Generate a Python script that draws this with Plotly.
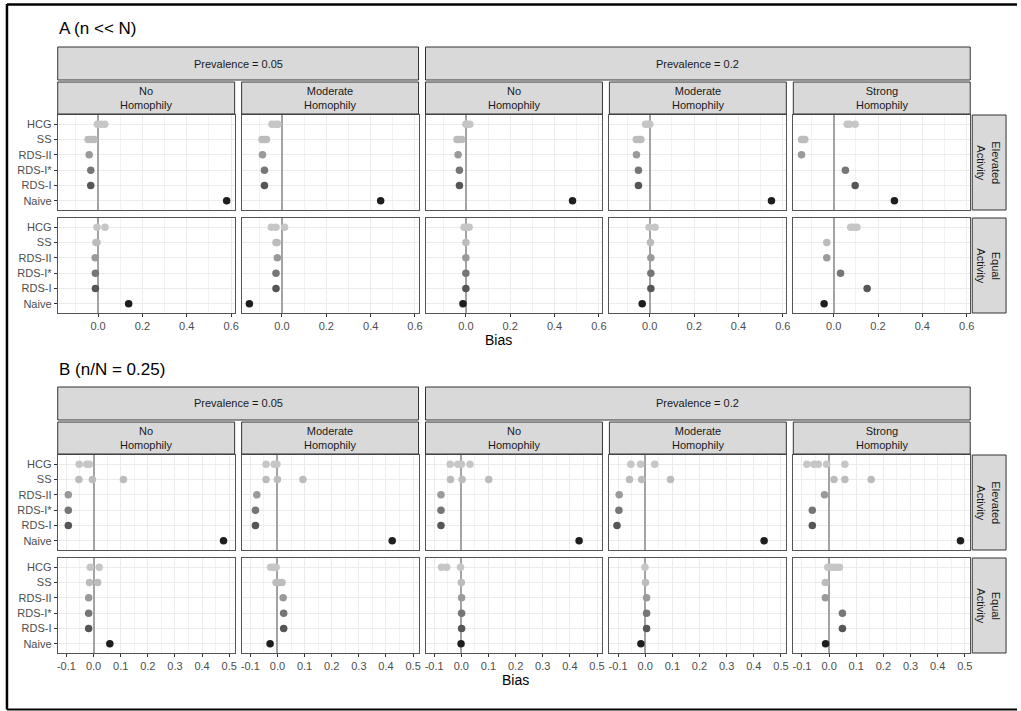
import plotly.graph_objects as go

W, H = 1021, 711

METHODS = ["HCG", "SS", "RDS-II", "RDS-I*", "RDS-I", "Naive"]
CAT_ORDER = ["Naive", "RDS-I", "RDS-I*", "RDS-II", "SS", "HCG"]
COLORS = {"HCG": "#c6c6c6", "SS": "#bcbcbc", "RDS-II": "#9a9a9a",
          "RDS-I*": "#767676", "RDS-I": "#565656", "Naive": "#1e1e1e"}

PREVALENCE = ["Prevalence = 0.05", "Prevalence = 0.2"]
HOMOPHILY = ["No<br>Homophily", "Moderate<br>Homophily", "No<br>Homophily",
             "Moderate<br>Homophily", "Strong<br>Homophily"]
ACTIVITY = ["Elevated<br>Activity", "Equal<br>Activity"]
SECTION_TITLES = ["A (n << N)", "B (n/N = 0.25)"]

# ---- Section A (n << N): values per panel (5 homophily panels) ----
A_ELEVATED = {
    "HCG": [[-0.003, 0.015, 0.03], [-0.045, -0.03, -0.018], [0.0, 0.008, 0.018], [-0.019, -0.008, 0.0], [0.061, 0.072, 0.097]],
    "SS": [[-0.045, -0.03, -0.018], [-0.09, -0.08, -0.07], [-0.04, -0.03, -0.018], [-0.061, -0.05, -0.04], [-0.145, -0.138, -0.13]],
    "RDS-II": [[-0.04], [-0.088], [-0.035], [-0.06], [-0.145]],
    "RDS-I*": [[-0.033], [-0.079], [-0.029], [-0.051], [0.053]],
    "RDS-I": [[-0.033], [-0.079], [-0.029], [-0.051], [0.097]],
    "Naive": [[0.58], [0.445], [0.481], [0.549], [0.274]],
}
A_EQUAL = {
    "HCG": [[-0.005, 0.031], [-0.048, -0.027, 0.012], [-0.008, 0.005, 0.015], [-0.003, 0.024], [0.077, 0.09, 0.105]],
    "SS": [[-0.01, -0.005], [-0.027, -0.022], [0.0], [0.003], [-0.031]],
    "RDS-II": [[-0.013], [-0.021], [0.0], [0.005], [-0.031]],
    "RDS-I*": [[-0.012], [-0.027], [0.0], [0.005], [0.031]],
    "RDS-I": [[-0.012], [-0.027], [0.0], [0.005], [0.151]],
    "Naive": [[0.138], [-0.147], [-0.013], [-0.034], [-0.043]],
}
# ---- Section B (n/N = 0.25) ----
B_ELEVATED = {
    "HCG": [[-0.053, -0.025, -0.015], [-0.042, -0.012, -0.002], [-0.041, -0.013, 0.0, 0.032], [-0.053, -0.017, 0.035], [-0.082, -0.056, -0.04, -0.009, 0.058]],
    "SS": [[-0.054, -0.004, 0.110], [-0.042, 0.0, 0.094], [-0.04, 0.003, 0.101], [-0.058, -0.013, 0.093], [0.018, 0.058, 0.155]],
    "RDS-II": [[-0.093], [-0.076], [-0.075], [-0.096], [-0.017]],
    "RDS-I*": [[-0.093], [-0.081], [-0.075], [-0.097], [-0.062]],
    "RDS-I": [[-0.093], [-0.081], [-0.075], [-0.104], [-0.062]],
    "Naive": [[0.479], [0.423], [0.434], [0.438], [0.484]],
}
B_EQUAL = {
    "HCG": [[-0.012, 0.021], [-0.025, -0.012, -0.005], [-0.073, -0.054, -0.003], [-0.001], [-0.005, 0.01, 0.025, 0.038]],
    "SS": [[-0.015, 0.015], [-0.005, 0.005, 0.017], [0.0], [0.001], [-0.014]],
    "RDS-II": [[-0.018], [0.021], [0.001], [0.005], [-0.014]],
    "RDS-I*": [[-0.018], [0.023], [0.001], [0.005], [0.049]],
    "RDS-I": [[-0.018], [0.023], [0.001], [0.005], [0.049]],
    "Naive": [[0.06], [-0.027], [-0.001], [-0.016], [-0.013]],
}

A_TICKS = [0.0, 0.2, 0.4, 0.6]
B_TICKS = [-0.1, 0.0, 0.1, 0.2, 0.3, 0.4, 0.5]

SECTIONS = [
    dict(data=[A_ELEVATED, A_EQUAL], xr=[-0.182, 0.616], ticks=A_TICKS, minor=0.1, top=115),
    dict(data=[B_ELEVATED, B_EQUAL], xr=[-0.132, 0.52], ticks=B_TICKS, minor=0.05, top=455),
]

# ---- layout geometry (pixels) ----
PX0 = 57.0
PW = 177.8
GAP = 7.0
ROWH = 95.0
ROWGAP = 8.0
FONT = "Liberation Sans, Arial, sans-serif"


def fx(px):
    return px / W


def fy(py):
    return 1 - py / H


fig = go.Figure()
layout = {}
shapes = []
annotations = []

idx = 0
for s, sec in enumerate(SECTIONS):
    top = sec["top"]
    for r in range(2):
        y0 = top + r * (ROWH + ROWGAP)
        y1 = y0 + ROWH
        for c in range(5):
            idx += 1
            x0 = PX0 + c * (PW + GAP)
            x1 = x0 + PW
            xa = "x" if idx == 1 else f"x{idx}"
            ya = "y" if idx == 1 else f"y{idx}"
            xkey = "xaxis" if idx == 1 else f"xaxis{idx}"
            ykey = "yaxis" if idx == 1 else f"yaxis{idx}"
            data = sec["data"][r]
            for m in METHODS:
                vals = data[m][c]
                fig.add_trace(go.Scatter(
                    x=vals, y=[m] * len(vals), mode="markers",
                    marker=dict(size=7.5, color=COLORS[m], line=dict(width=0)),
                    xaxis=xa, yaxis=ya, showlegend=False, hoverinfo="x+y"))
            bottom = (r == 1)
            layout[xkey] = dict(
                domain=[fx(x0), fx(x1)], anchor=ya, range=sec["xr"],
                tickmode="array", tickvals=sec["ticks"],
                ticktext=[("%.1f" % t) for t in sec["ticks"]],
                showticklabels=bottom, ticks="outside" if bottom else "",
                ticklen=3, tickwidth=1, tickcolor="#333333",
                tickfont=dict(size=11, color="#4d4d4d", family=FONT),
                showgrid=True, gridcolor="#ebebeb", gridwidth=1,
                minor=dict(dtick=sec["minor"], tick0=0, showgrid=True,
                           gridcolor="#f2f2f2", gridwidth=0.6, ticks=""),
                zeroline=True, zerolinecolor="#a3a3a3", zerolinewidth=1.5,
                showline=True, mirror=True, linecolor="#555555", linewidth=1,
                fixedrange=True,
            )
            left = (c == 0)
            layout[ykey] = dict(
                domain=[fy(y1), fy(y0)], anchor=xa, type="category",
                categoryorder="array", categoryarray=CAT_ORDER,
                range=[-0.6, 5.6], showticklabels=left,
                ticks="outside" if left else "", ticklen=3, tickwidth=1,
                tickcolor="#333333",
                tickfont=dict(size=11, color="#4d4d4d", family=FONT),
                showgrid=True, gridcolor="#ebebeb", gridwidth=1,
                zeroline=False, showline=True, mirror=True,
                linecolor="#555555", linewidth=1, fixedrange=True,
            )
        # right strip for row
        shapes.append(dict(type="rect", xref="paper", yref="paper",
                           x0=fx(976), x1=fx(1010), y0=fy(y1), y1=fy(y0),
                           fillcolor="#d9d9d9", line=dict(color="#333333", width=1),
                           layer="below"))
        annotations.append(dict(xref="paper", yref="paper", x=fx(993),
                                y=fy((y0 + y1) / 2), text=ACTIVITY[r], textangle=90,
                                showarrow=False, font=dict(size=11, color="#1a1a1a", family=FONT),
                                xanchor="center", yanchor="middle"))

    # top strips
    s1_0, s1_1 = top - 68, top - 35
    s2_0, s2_1 = top - 33, top - 1
    spans = [(PX0, PX0 + 2 * PW + GAP), (PX0 + 2 * (PW + GAP), PX0 + 5 * PW + 4 * GAP)]
    for p, (a, b) in enumerate(spans):
        shapes.append(dict(type="rect", xref="paper", yref="paper",
                           x0=fx(a), x1=fx(b), y0=fy(s1_1), y1=fy(s1_0),
                           fillcolor="#d9d9d9", line=dict(color="#333333", width=1)))
        annotations.append(dict(xref="paper", yref="paper", x=fx((a + b) / 2),
                                y=fy((s1_0 + s1_1) / 2), text=PREVALENCE[p],
                                showarrow=False, font=dict(size=11, color="#1a1a1a", family=FONT),
                                xanchor="center", yanchor="middle"))
    for c in range(5):
        a = PX0 + c * (PW + GAP)
        b = a + PW
        shapes.append(dict(type="rect", xref="paper", yref="paper",
                           x0=fx(a), x1=fx(b), y0=fy(s2_1), y1=fy(s2_0),
                           fillcolor="#d9d9d9", line=dict(color="#333333", width=1)))
        annotations.append(dict(xref="paper", yref="paper", x=fx((a + b) / 2),
                                y=fy((s2_0 + s2_1) / 2), text=HOMOPHILY[c],
                                showarrow=False, font=dict(size=11, color="#1a1a1a", family=FONT),
                                xanchor="center", yanchor="middle"))
    # section title
    annotations.append(dict(xref="paper", yref="paper", x=fx(56), y=fy(top - 86),
                            text=SECTION_TITLES[s], showarrow=False,
                            font=dict(size=17, color="#000000", family=FONT),
                            xanchor="left", yanchor="middle"))
    # axis title
    bias_x = 500 if s == 0 else 517
    annotations.append(dict(xref="paper", yref="paper", x=fx(bias_x),
                            y=fy(top + 2 * ROWH + ROWGAP + 27), text="Bias", showarrow=False,
                            font=dict(size=14, color="#000000", family=FONT),
                            xanchor="center", yanchor="middle"))

# outer frame (left, top, bottom)
shapes.append(dict(type="line", xref="paper", yref="paper", x0=fx(6), x1=fx(6),
                   y0=fy(4), y1=fy(709.5), line=dict(color="#000000", width=2.5)))
shapes.append(dict(type="line", xref="paper", yref="paper", x0=fx(6), x1=1,
                   y0=fy(4.5), y1=fy(4.5), line=dict(color="#000000", width=2.5)))
shapes.append(dict(type="line", xref="paper", yref="paper", x0=fx(6), x1=1,
                   y0=fy(709.5), y1=fy(709.5), line=dict(color="#000000", width=2)))

fig.update_layout(
    width=W, height=H, margin=dict(l=0, r=0, t=0, b=0),
    paper_bgcolor="white", plot_bgcolor="white",
    showlegend=False, shapes=shapes, annotations=annotations,
    font=dict(family=FONT, size=11, color="#4d4d4d"),
    **layout,
)

fig.write_html(
    "out.html",
    config={"displayModeBar": False},
    post_script="document.body.style.margin='0';document.body.style.padding='0';"
                "document.body.style.overflow='hidden';",
)
